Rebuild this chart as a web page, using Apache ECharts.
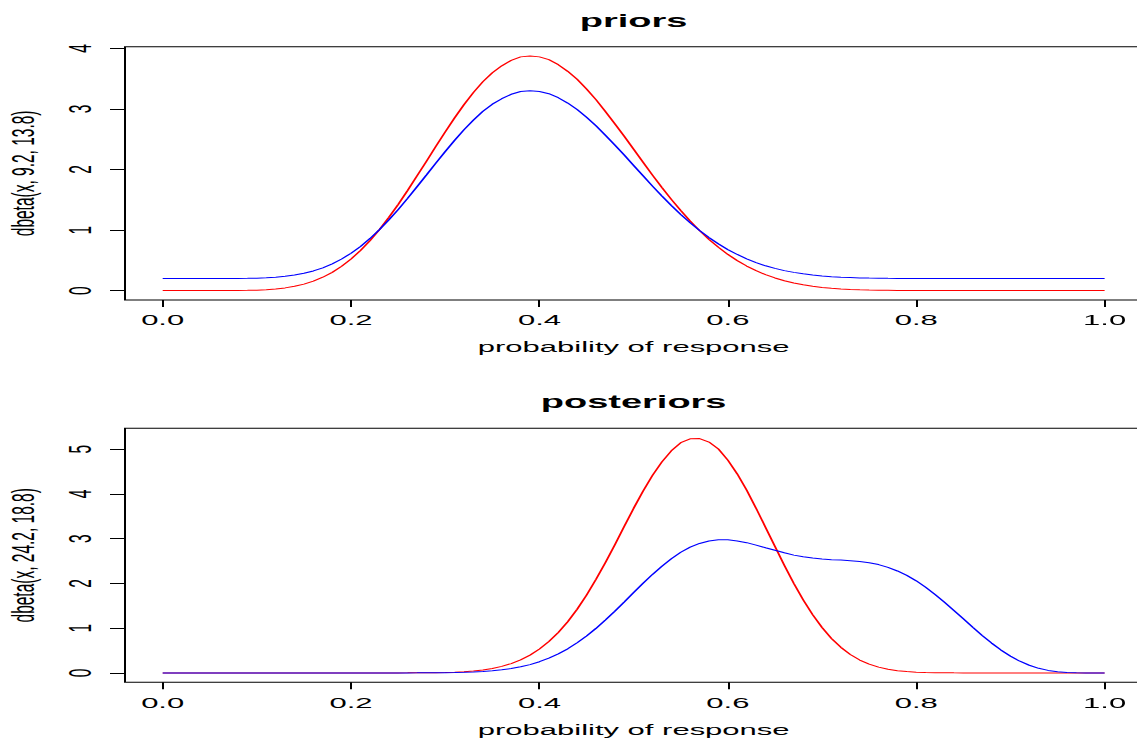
<!DOCTYPE html>
<html>
<head>
<meta charset="utf-8">
<script src="https://cdn.jsdelivr.net/npm/echarts@6/dist/echarts.min.js"></script>
<style>
  html, body { margin: 0; padding: 0; background: #fff; overflow: hidden; }
  /* the reference is an R plot stretched about 2x sideways, so draw at half width and stretch */
  #main { width: 568.5px; height: 740px; transform: scaleX(2); transform-origin: 0 0; }
</style>
</head>
<body>
<div id="main"></div>
<script>
  // probability of response, same 101-point grid as R's curve()
  var xs = [0, 0.01, 0.02, 0.03, 0.04, 0.05, 0.06, 0.07, 0.08, 0.09,
    0.1, 0.11, 0.12, 0.13, 0.14, 0.15, 0.16, 0.17, 0.18, 0.19,
    0.2, 0.21, 0.22, 0.23, 0.24, 0.25, 0.26, 0.27, 0.28, 0.29,
    0.3, 0.31, 0.32, 0.33, 0.34, 0.35, 0.36, 0.37, 0.38, 0.39,
    0.4, 0.41, 0.42, 0.43, 0.44, 0.45, 0.46, 0.47, 0.48, 0.49,
    0.5, 0.51, 0.52, 0.53, 0.54, 0.55, 0.56, 0.57, 0.58, 0.59,
    0.6, 0.61, 0.62, 0.63, 0.64, 0.65, 0.66, 0.67, 0.68, 0.69,
    0.7, 0.71, 0.72, 0.73, 0.74, 0.75, 0.76, 0.77, 0.78, 0.79,
    0.8, 0.81, 0.82, 0.83, 0.84, 0.85, 0.86, 0.87, 0.88, 0.89,
    0.9, 0.91, 0.92, 0.93, 0.94, 0.95, 0.96, 0.97, 0.98, 0.99, 1]

  // priors panel
  var priorRed = [0, 0, 0, 0, 0, 0, 0.0002, 0.0007, 0.002, 0.004,
    0.008, 0.015, 0.027, 0.045, 0.071, 0.107, 0.156, 0.221, 0.302, 0.402,
    0.522, 0.663, 0.824, 1.005, 1.208, 1.422, 1.654, 1.895, 2.136, 2.382,
    2.622, 2.855, 3.074, 3.274, 3.452, 3.600, 3.713, 3.804, 3.861, 3.877,
    3.861, 3.815, 3.732, 3.622, 3.490, 3.330, 3.155, 2.959, 2.757, 2.550,
    2.335, 2.121, 1.908, 1.704, 1.508, 1.323, 1.150, 0.991, 0.845, 0.715,
    0.598, 0.496, 0.406, 0.329, 0.263, 0.209, 0.163, 0.126, 0.096, 0.072,
    0.053, 0.039, 0.028, 0.020, 0.013, 0.009, 0.006, 0.004, 0.002, 0.0015,
    0.001, 0.0005, 0, 0, 0, 0, 0, 0, 0, 0,
    0, 0, 0, 0, 0, 0, 0, 0, 0, 0, 0]
  var priorBlue = [0.2, 0.2, 0.2, 0.2, 0.2, 0.2, 0.2, 0.201, 0.202, 0.203,
    0.206, 0.212, 0.222, 0.236, 0.257, 0.286, 0.325, 0.377, 0.442, 0.522,
    0.618, 0.730, 0.859, 1.004, 1.166, 1.338, 1.523, 1.716, 1.909, 2.106,
    2.298, 2.484, 2.659, 2.819, 2.962, 3.080, 3.170, 3.243, 3.289, 3.302,
    3.289, 3.252, 3.186, 3.098, 2.992, 2.864, 2.724, 2.567, 2.406, 2.240,
    2.068, 1.897, 1.726, 1.563, 1.406, 1.258, 1.120, 0.993, 0.876, 0.772,
    0.678, 0.597, 0.525, 0.463, 0.410, 0.367, 0.330, 0.301, 0.277, 0.258,
    0.242, 0.231, 0.222, 0.216, 0.210, 0.207, 0.205, 0.203, 0.202, 0.201,
    0.201, 0.2, 0.2, 0.2, 0.2, 0.2, 0.2, 0.2, 0.2, 0.2,
    0.2, 0.2, 0.2, 0.2, 0.2, 0.2, 0.2, 0.2, 0.2, 0.2, 0.2]

  // posteriors panel
  var postRed = [0, 0, 0, 0, 0, 0, 0, 0, 0, 0,
    0, 0, 0, 0, 0, 0, 0, 0, 0, 0,
    0, 0, 0, 0.0001, 0.0003, 0.0005, 0.001, 0.002, 0.0035, 0.006,
    0.010, 0.017, 0.028, 0.044, 0.067, 0.100, 0.146, 0.208, 0.291, 0.397,
    0.533, 0.700, 0.903, 1.143, 1.423, 1.740, 2.090, 2.467, 2.863, 3.274,
    3.680, 4.063, 4.415, 4.716, 4.963, 5.145, 5.233, 5.238, 5.160, 5.003,
    4.755, 4.446, 4.084, 3.680, 3.254, 2.826, 2.404, 2.000, 1.634, 1.301,
    1.014, 0.770, 0.571, 0.412, 0.288, 0.196, 0.129, 0.082, 0.050, 0.029,
    0.017, 0.009, 0.0045, 0.002, 0.001, 0.0004, 0.0002, 0.0001, 0, 0,
    0, 0, 0, 0, 0, 0, 0, 0, 0, 0, 0]
  var postBlue = [0, 0, 0, 0, 0, 0, 0, 0, 0, 0,
    0, 0, 0, 0, 0, 0, 0, 0, 0, 0,
    0, 0, 0, 0, 0, 0.0002, 0.0004, 0.001, 0.002, 0.003,
    0.005, 0.008, 0.013, 0.021, 0.032, 0.047, 0.069, 0.098, 0.137, 0.186,
    0.250, 0.329, 0.425, 0.539, 0.673, 0.825, 0.995, 1.180, 1.377, 1.585,
    1.797, 2.003, 2.202, 2.385, 2.552, 2.697, 2.810, 2.893, 2.948, 2.978,
    2.974, 2.950, 2.911, 2.857, 2.796, 2.740, 2.685, 2.633, 2.597, 2.566,
    2.546, 2.531, 2.521, 2.508, 2.489, 2.462, 2.421, 2.358, 2.278, 2.180,
    2.058, 1.915, 1.753, 1.581, 1.396, 1.208, 1.020, 0.836, 0.666, 0.510,
    0.375, 0.261, 0.171, 0.103, 0.056, 0.026, 0.010, 0.003, 0.0004, 0, 0]

  var xTicks = [0, 0.2, 0.4, 0.6, 0.8, 1.0]
  var yTicksPrior = [0, 1, 2, 3, 4]
  var yTicksPost = [0, 1, 2, 3, 4, 5]

  var font = '"Liberation Sans", Arial, Helvetica, sans-serif'

  function pairs (ys) {
    return xs.map(function (x, i) { return [x, ys[i]] })
  }

  function xAxisFor (idx) {
    return {
      type: 'value',
      gridIndex: idx,
      min: -0.04,
      max: 1.04,
      name: 'probability of response',
      nameLocation: 'middle',
      nameGap: 39,
      nameTextStyle: { color: '#000', fontSize: 15.5, fontFamily: font },
      axisLine: { show: false, onZero: false },
      axisTick: { show: true, customValues: xTicks, length: 7, lineStyle: { color: '#000', width: 1 } },
      axisLabel: {
        customValues: xTicks,
        margin: 12,
        color: '#000',
        fontSize: 15.5,
        fontFamily: font,
        formatter: function (v) { return v.toFixed(1) }
      },
      splitLine: { show: false }
    }
  }

  function yAxisFor (idx, name, min, max, ticks) {
    return {
      type: 'value',
      gridIndex: idx,
      min: min,
      max: max,
      name: name,
      nameLocation: 'middle',
      nameRotate: 90,
      nameGap: 43,
      nameTextStyle: { color: '#000', fontSize: 15.5, fontFamily: font },
      axisLine: { show: false, onZero: false },
      axisTick: { show: true, customValues: ticks, length: 7.5, lineStyle: { color: '#000', width: 1 } },
      axisLabel: { customValues: ticks, rotate: 90, margin: 14.5, color: '#000', fontSize: 15.5, fontFamily: font },
      splitLine: { show: false }
    }
  }

  function lineSeries (idx, ys, color) {
    return {
      type: 'line',
      xAxisIndex: idx,
      yAxisIndex: idx,
      data: pairs(ys),
      showSymbol: false,
      silent: true,
      lineStyle: { color: color, width: 1 }
    }
  }

  var chart = echarts.init(document.getElementById('main'), null, { renderer: 'svg', width: 568.5, height: 740 })

  var option = {
    animation: false,
    backgroundColor: '#fff',
    title: [
      { text: 'priors', left: 316.8, top: 11, padding: 0, textAlign: 'center',
        textStyle: { color: '#000', fontSize: 19, fontWeight: 'bold', fontFamily: font } },
      { text: 'posteriors', left: 316.8, top: 392, padding: 0, textAlign: 'center',
        textStyle: { color: '#000', fontSize: 19, fontWeight: 'bold', fontFamily: font } }
    ],
    grid: [
      { left: 62.5, width: 508.65, top: 46.7, height: 253.3, outerBoundsMode: 'none', containLabel: false,
        show: true, borderColor: '#000', borderWidth: 1, backgroundColor: 'transparent' },
      { left: 62.5, width: 508.65, top: 428.3, height: 254, outerBoundsMode: 'none', containLabel: false,
        show: true, borderColor: '#000', borderWidth: 1, backgroundColor: 'transparent' }
    ],
    xAxis: [xAxisFor(0), xAxisFor(1)],
    yAxis: [
      yAxisFor(0, 'dbeta(x, 9.2, 13.8)', -0.155, 4.029, yTicksPrior),
      yAxisFor(1, 'dbeta(x, 24.2, 18.8)', -0.21, 5.467, yTicksPost)
    ],
    series: [
      lineSeries(0, priorRed, '#ff0000'),
      lineSeries(0, priorBlue, '#0000ff'),
      lineSeries(1, postRed, '#ff0000'),
      lineSeries(1, postBlue, '#0000ff')
    ]
  }

  chart.setOption(option)
</script>
</body>
</html>
